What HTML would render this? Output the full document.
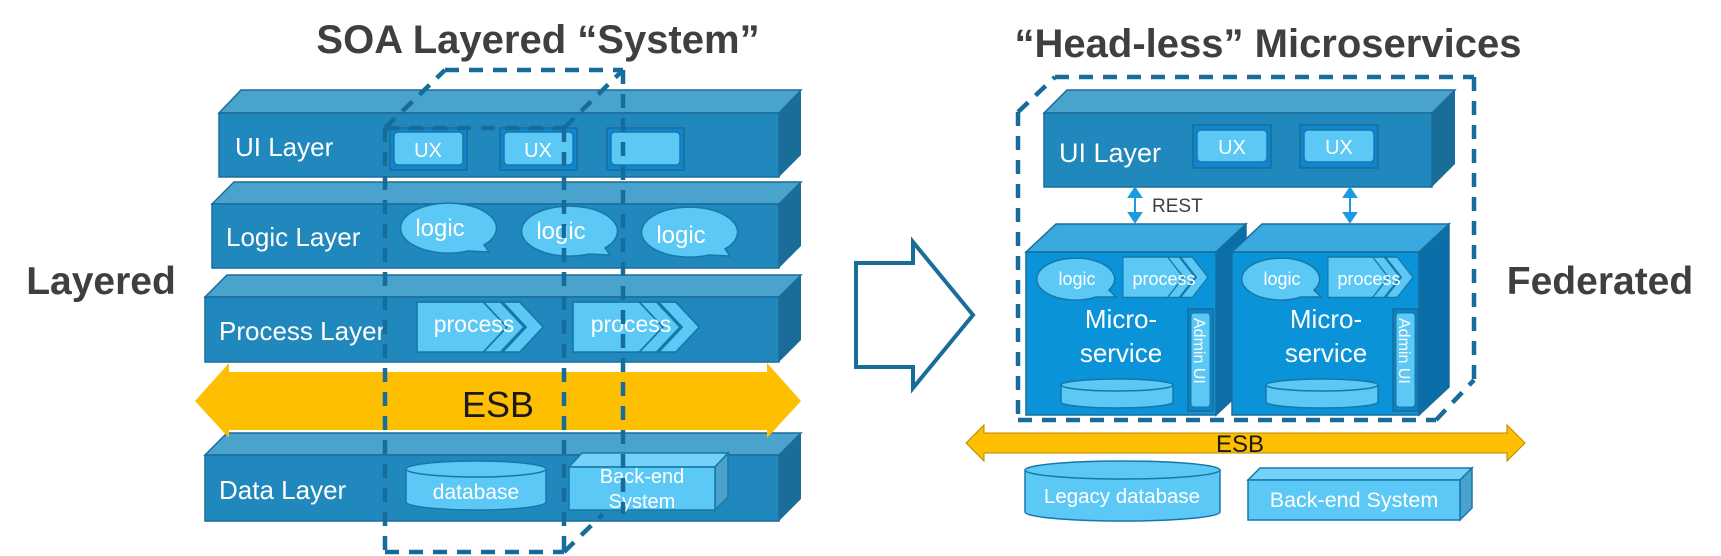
<!DOCTYPE html>
<html><head><meta charset="utf-8"><style>
html,body{margin:0;padding:0;background:#fff;}
svg{display:block;font-family:"Liberation Sans",Arial,sans-serif;}
</style></head><body>
<svg width="1721" height="556" viewBox="0 0 1721 556" xmlns="http://www.w3.org/2000/svg">
<defs>
<g id="chev">
<polygon points="0,0 62,0 84,22 62,44 0,44" fill="#5bc8f5" stroke="#1678a8" stroke-width="1.5"/>
<polygon points="62,0 78,0 100,22 78,44 62,44 84,22" fill="#5bc8f5" stroke="#1678a8" stroke-width="1.5"/>
<polygon points="80,0 96,0 118,22 96,44 80,44 102,22" fill="#5bc8f5" stroke="#1678a8" stroke-width="1.5"/>
</g>
</defs>
<!-- titles -->
<text x="538" y="53" font-size="40" font-weight="bold" fill="#3f3f3f" text-anchor="middle">SOA Layered “System”</text>
<text x="1268" y="57" font-size="40" font-weight="bold" fill="#3f3f3f" text-anchor="middle">“Head-less” Microservices</text>
<text x="101" y="294" font-size="39" font-weight="bold" fill="#3f3f3f" text-anchor="middle">Layered</text>
<text x="1600" y="294" font-size="39" font-weight="bold" fill="#3f3f3f" text-anchor="middle">Federated</text>

<!-- UI layer -->
<polygon points="219,113 241,90 801,90 779,113" fill="#4aa3cc" stroke="#1a6d99" stroke-width="1.5"/>
<polygon points="779,113 801,90 801,155 779,177" fill="#1a6d99"/>
<rect x="219" y="113" width="560" height="64" fill="#2088bd" stroke="#1a6d99" stroke-width="1.5"/>
<text x="235" y="156" font-size="26" fill="#fff">UI Layer</text>
<!-- Logic layer -->
<polygon points="212,204 234,182 801,182 779,204" fill="#4aa3cc" stroke="#1a6d99" stroke-width="1.5"/>
<polygon points="779,204 801,182 801,246 779,268" fill="#1a6d99"/>
<rect x="212" y="204" width="567" height="64" fill="#2088bd" stroke="#1a6d99" stroke-width="1.5"/>
<text x="226" y="246" font-size="26" fill="#fff">Logic Layer</text>
<!-- Process layer -->
<polygon points="205,297 227,275 801,275 779,297" fill="#4aa3cc" stroke="#1a6d99" stroke-width="1.5"/>
<polygon points="779,297 801,275 801,340 779,362" fill="#1a6d99"/>
<rect x="205" y="297" width="574" height="65" fill="#2088bd" stroke="#1a6d99" stroke-width="1.5"/>
<text x="219" y="340" font-size="26" fill="#fff">Process Layer</text>
<!-- Data layer -->
<polygon points="205,455 227,433 801,433 779,455" fill="#4aa3cc" stroke="#1a6d99" stroke-width="1.5"/>
<polygon points="779,455 801,433 801,499 779,521" fill="#1a6d99"/>
<rect x="205" y="455" width="574" height="66" fill="#2088bd" stroke="#1a6d99" stroke-width="1.5"/>
<text x="219" y="499" font-size="26" fill="#fff">Data Layer</text>
<!-- ESB left -->
<polygon points="195,401 229,363 229,372 767,372 767,363 801,401 767,438 767,430 229,430 229,438" fill="#fdbf00"/>
<text x="498" y="417" font-size="36" fill="#1a1a1a" text-anchor="middle">ESB</text>

<!-- UX boxes -->
<rect x="390" y="128" width="77" height="42" fill="#0f86d0" stroke="#1a6d99" stroke-width="1.5"/>
<rect x="394" y="132" width="69" height="33" rx="4" fill="#5bc8f5" stroke="#1678a8" stroke-width="1.5"/>
<text x="428" y="157" font-size="20" fill="#fff" text-anchor="middle">UX</text>
<rect x="500" y="128" width="77" height="42" fill="#0f86d0" stroke="#1a6d99" stroke-width="1.5"/>
<rect x="504" y="132" width="69" height="33" rx="4" fill="#5bc8f5" stroke="#1678a8" stroke-width="1.5"/>
<text x="538" y="157" font-size="20" fill="#fff" text-anchor="middle">UX</text>
<rect x="607" y="128" width="77" height="42" fill="#0f86d0" stroke="#1a6d99" stroke-width="1.5"/>
<rect x="611" y="132" width="69" height="33" rx="4" fill="#5bc8f5" stroke="#1678a8" stroke-width="1.5"/>
<!-- logic bubbles -->
<path d="M484,245 A48,25 0 1 0 468,251 L489,252 Z" fill="#5bc8f5" stroke="#1678a8" stroke-width="1.5"/>
<text x="440" y="236" font-size="24" fill="#fff" text-anchor="middle">logic</text>
<path d="M605,248 A48,25 0 1 0 589,254 L610,255 Z" fill="#5bc8f5" stroke="#1678a8" stroke-width="1.5"/>
<text x="561" y="239" font-size="24" fill="#fff" text-anchor="middle">logic</text>
<path d="M725,249 A48,25 0 1 0 709,255 L730,256 Z" fill="#5bc8f5" stroke="#1678a8" stroke-width="1.5"/>
<text x="681" y="243" font-size="24" fill="#fff" text-anchor="middle">logic</text>
<!-- process chevrons -->
<use href="#chev" transform="translate(417,302) scale(1.07,1.14)"/>
<text x="474" y="332" font-size="23" fill="#fff" text-anchor="middle">process</text>
<use href="#chev" transform="translate(573,302) scale(1.07,1.14)"/>
<text x="631" y="332" font-size="23" fill="#fff" text-anchor="middle">process</text>
<!-- database -->
<path d="M406,469 L406,502 A70,8 0 0 0 546,502 L546,469" fill="#5bc8f5" stroke="#1678a8" stroke-width="1.5"/>
<ellipse cx="476" cy="469" rx="70" ry="8" fill="#5bc8f5" stroke="#1678a8" stroke-width="1.5"/>
<text x="476" y="499" font-size="21" fill="#fff" text-anchor="middle">database</text>
<!-- backend -->
<polygon points="569,467 582,453 728,453 715,467" fill="#74d2f8" stroke="#1678a8" stroke-width="1.5"/>
<polygon points="715,467 728,453 728,497 715,510" fill="#4aa3cc" stroke="#1678a8" stroke-width="1.5"/>
<rect x="569" y="467" width="146" height="43" fill="#5bc8f5" stroke="#1678a8" stroke-width="1.5"/>
<text x="642" y="483" font-size="20" fill="#fff" text-anchor="middle">Back-end</text>
<text x="642" y="508" font-size="20" fill="#fff" text-anchor="middle">System</text>

<!-- dashed system box left -->
<g fill="none" stroke="#166d9c" stroke-width="4.5" stroke-dasharray="14,10">
<line x1="385" y1="128" x2="385" y2="552"/>
<line x1="385" y1="552" x2="564" y2="552"/>
<line x1="564" y1="128" x2="564" y2="552"/>
<line x1="385" y1="128" x2="564" y2="128"/>
<line x1="445" y1="70" x2="623" y2="70"/>
<line x1="623" y1="70" x2="623" y2="514"/>
<line x1="385" y1="128" x2="445" y2="70"/>
<line x1="564" y1="128" x2="623" y2="70"/>
<line x1="564" y1="552" x2="603" y2="514"/>
</g>

<!-- big arrow -->
<polygon points="856,263 913,263 913,242 973,315 913,388 913,367 856,367" fill="#fff" stroke="#1a6d99" stroke-width="4"/>

<!-- right: dashed box -->
<g fill="none" stroke="#166d9c" stroke-width="4.5" stroke-dasharray="14,10">
<line x1="1055" y1="77" x2="1474" y2="77"/>
<line x1="1018" y1="112" x2="1055" y2="77"/>
<line x1="1018" y1="112" x2="1018" y2="420"/>
<line x1="1018" y1="420" x2="1436" y2="420"/>
<line x1="1474" y1="77" x2="1474" y2="380"/>
<line x1="1436" y1="420" x2="1474" y2="380"/>
</g>
<!-- right UI layer -->
<polygon points="1044,113 1067,90 1455,90 1432,113" fill="#4aa3cc" stroke="#1a6d99" stroke-width="1.5"/>
<polygon points="1432,113 1455,90 1455,164 1432,187" fill="#1a6d99"/>
<rect x="1044" y="113" width="388" height="74" fill="#2088bd" stroke="#1a6d99" stroke-width="1.5"/>
<text x="1059" y="162" font-size="27" fill="#fff">UI Layer</text>
<rect x="1193" y="125" width="78" height="43" fill="#0f86d0" stroke="#1a6d99" stroke-width="1.5"/>
<rect x="1197" y="130" width="70" height="32" rx="4" fill="#5bc8f5" stroke="#1678a8" stroke-width="1.5"/>
<text x="1232" y="154" font-size="20" fill="#fff" text-anchor="middle">UX</text>
<rect x="1300" y="125" width="78" height="43" fill="#0f86d0" stroke="#1a6d99" stroke-width="1.5"/>
<rect x="1304" y="130" width="70" height="32" rx="4" fill="#5bc8f5" stroke="#1678a8" stroke-width="1.5"/>
<text x="1339" y="154" font-size="20" fill="#fff" text-anchor="middle">UX</text>
<!-- REST arrows -->
<g stroke="#1d9be0" stroke-width="2" fill="#1d9be0">
<line x1="1135" y1="192" x2="1135" y2="218"/>
<polygon points="1129,197 1135,188 1141,197"/>
<polygon points="1129,213 1135,222 1141,213"/>
<line x1="1350" y1="192" x2="1350" y2="218"/>
<polygon points="1344,197 1350,188 1356,197"/>
<polygon points="1344,213 1350,222 1356,213"/>
</g>
<text x="1152" y="212" font-size="19" fill="#3f3f3f">REST</text>

<!-- microservice 1 -->
<polygon points="1026,252 1056,224 1246,224 1216,252" fill="#39a9e0" stroke="#1a6d99" stroke-width="1.5"/>
<polygon points="1216,252 1246,224 1246,387 1216,415" fill="#0a6fa8" stroke="#1a6d99" stroke-width="1.5"/>
<rect x="1026" y="252" width="190" height="163" fill="#0a93d8" stroke="#1a6d99" stroke-width="1.5"/>
<!-- microservice 2 -->
<polygon points="1232,252 1262,224 1449,224 1419,252" fill="#39a9e0" stroke="#1a6d99" stroke-width="1.5"/>
<polygon points="1419,252 1449,224 1449,387 1419,415" fill="#0a6fa8" stroke="#1a6d99" stroke-width="1.5"/>
<rect x="1232" y="252" width="187" height="163" fill="#0a93d8" stroke="#1a6d99" stroke-width="1.5"/>

<g id="msin" transform="translate(4,0)">
<path d="M1105,290 A39,21 0 1 0 1092,297 L1112,297 Z" fill="#5bc8f5" stroke="#1678a8" stroke-width="1.5"/>
<text x="1073" y="285" font-size="18" fill="#fff" text-anchor="middle">logic</text>
<use href="#chev" transform="translate(1119,257) scale(0.72,0.92)"/>
<text x="1160" y="285" font-size="18" fill="#fff" text-anchor="middle">process</text>
<text x="1117" y="328" font-size="26" fill="#fff" text-anchor="middle">Micro-</text>
<text x="1117" y="362" font-size="26" fill="#fff" text-anchor="middle">service</text>
<rect x="1184" y="309" width="25" height="102" fill="#0a85c8" stroke="#1a6d99" stroke-width="1.5"/>
<rect x="1187" y="313" width="19" height="94" rx="3" fill="#5bc8f5" stroke="#1678a8" stroke-width="1"/>
<text transform="translate(1190,318) rotate(90)" font-size="16" fill="#fff">Admin UI</text>
<path d="M1057,385 L1057,402 A56,6 0 0 0 1169,402 L1169,385" fill="#5bc8f5" stroke="#1678a8" stroke-width="1.5"/>
<ellipse cx="1113" cy="385" rx="56" ry="6" fill="#5bc8f5" stroke="#1678a8" stroke-width="1.5"/>
</g>
<use href="#msin" transform="translate(205,0)"/>

<!-- ESB right -->
<polygon points="966,443 984,425 984,433 1507,433 1507,425 1525,443 1507,461 1507,453 984,453 984,461" fill="#fdbf00" stroke="#b88a00" stroke-width="1"/>
<text x="1240" y="452" font-size="24" fill="#1a1a1a" text-anchor="middle">ESB</text>
<!-- Legacy db -->
<path d="M1025,470 L1025,512 A97,9 0 0 0 1220,512 L1220,470" fill="#5bc8f5" stroke="#1678a8" stroke-width="1.5"/>
<ellipse cx="1122.5" cy="470" rx="97.5" ry="9" fill="#5bc8f5" stroke="#1678a8" stroke-width="1.5"/>
<text x="1122" y="503" font-size="20.5" fill="#fff" text-anchor="middle">Legacy database</text>
<!-- backend right -->
<polygon points="1248,480 1260,468 1472,468 1460,480" fill="#74d2f8" stroke="#1678a8" stroke-width="1.5"/>
<polygon points="1460,480 1472,468 1472,508 1460,520" fill="#4aa3cc" stroke="#1678a8" stroke-width="1.5"/>
<rect x="1248" y="480" width="212" height="40" fill="#5bc8f5" stroke="#1678a8" stroke-width="1.5"/>
<text x="1354" y="507" font-size="21.5" fill="#fff" text-anchor="middle">Back-end System</text>
</svg>
</body></html>
